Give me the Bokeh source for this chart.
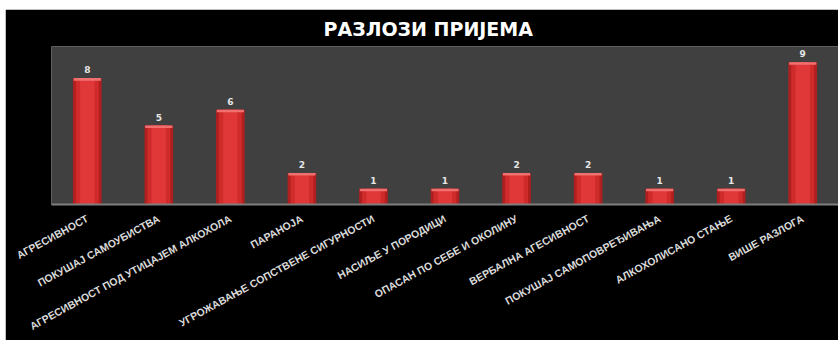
from bokeh.plotting import figure
from bokeh.models import FactorRange, Range1d, ColumnDataSource, Title, Spacer
from bokeh.layouts import column, row
from bokeh.core.properties import value
from bokeh.embed import file_html
from bokeh.resources import INLINE

categories = [
    "АГРЕСИВНОСТ",
    "ПОКУШАЈ САМОУБИСТВА",
    "АГРЕСИВНОСТ ПОД УТИЦАЈЕМ АЛКОХОЛА",
    "ПАРАНОЈА",
    "УГРОЖАВАЊЕ СОПСТВЕНЕ СИГУРНОСТИ",
    "НАСИЉЕ У ПОРОДИЦИ",
    "ОПАСАН ПО СЕБЕ И ОКОЛИНУ",
    "ВЕРБАЛНА АГЕСИВНОСТ",
    "ПОКУШАЈ САМОПОВРЕЂИВАЊА",
    "АЛКОХОЛИСАНО СТАЊЕ",
    "ВИШЕ РАЗЛОГА",
]
counts = [8, 5, 6, 2, 1, 1, 2, 2, 1, 1, 9]
title_text = "РАЗЛОЗИ ПРИЈЕМА"

src = ColumnDataSource(dict(
    cat=categories,
    val=counts,
    lbl=[str(v) for v in counts],
    cap=[v - 0.16 for v in counts],
))

TFONT = "DejaVu Sans"
LFONT = "Liberation Sans"

p = figure(
    width=833, height=331,
    x_range=FactorRange(*categories, range_padding=0),
    y_range=Range1d(0, 10),
    output_backend="svg", toolbar_location=None,
    min_border_left=46, min_border_right=0, min_border_top=35, min_border_bottom=135,
)
p.background_fill_color = "#404040"
p.border_fill_color = "#000000"
p.outline_line_color = None
p.xgrid.visible = False
p.ygrid.visible = False
p.yaxis.visible = False

t = Title(text=title_text, align="left", offset=272,
          text_font=TFONT, text_font_size="19px", text_font_style="bold",
          text_color="#ffffff", standoff=13)
p.add_layout(t, "above")

# bars, layered to fake the cylinder shading
p.vbar(x="cat", top="val", width=0.40, source=src, fill_color="#b01f1f", line_color=None)
p.vbar(x="cat", top="val", width=0.32, source=src, fill_color="#cf2b2b", line_color=None)
p.vbar(x="cat", top="val", width=0.20, source=src, fill_color="#e03838", line_color=None)
p.vbar(x="cat", top="val", bottom="cap", width=0.38, source=src, fill_color="#f07070", line_color=None)

p.text(x="cat", y="val", text="lbl", source=src, y_offset=-5,
       text_align="center", text_baseline="bottom",
       text_font=value(TFONT), text_font_size="9px", text_font_style="bold",
       text_color="#e6e6e6")

ax = p.xaxis[0]
ax.axis_line_color = "#7f7f7f"
ax.axis_line_width = 2
ax.major_tick_line_color = None
ax.minor_tick_line_color = None
ax.major_label_orientation = 0.5
ax.major_label_standoff = 7
ax.major_label_text_font = LFONT
ax.major_label_text_font_size = "10.5px"
ax.major_label_text_font_style = "bold"
ax.major_label_text_color = "#d9d9d9"

layout = column(Spacer(width=838, height=9), row(Spacer(width=5, height=331), p))

open("out.html", "w").write(file_html(layout, INLINE))
